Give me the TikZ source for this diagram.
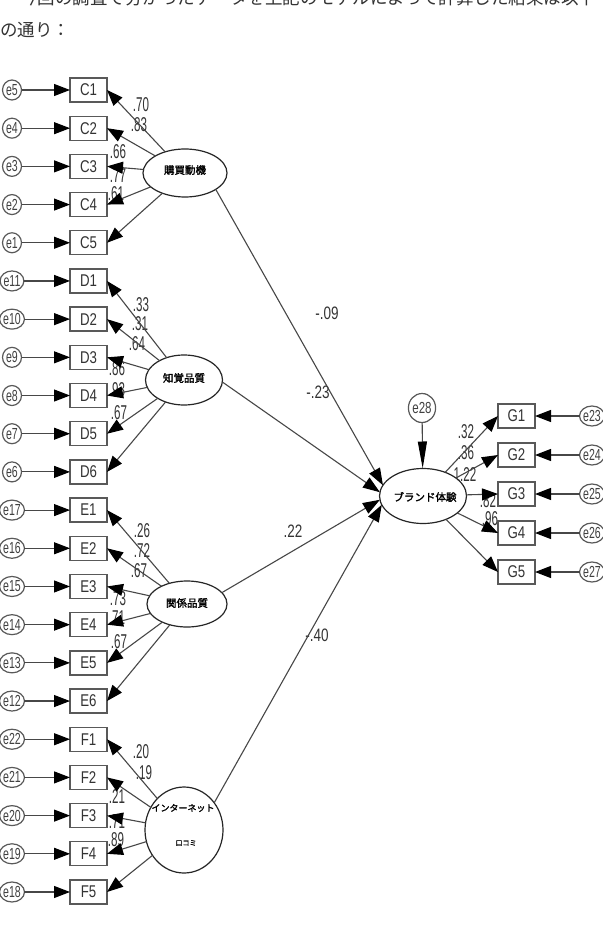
\documentclass[tikz,border=0pt]{standalone}
\usepackage{fontspec}
\usepackage{graphicx}
\setmainfont{Liberation Sans}
\newfontfamily\jp{Noto Sans CJK JP}
\newfontfamily\jpb[FakeBold=1.8]{Noto Sans CJK JP}
\usetikzlibrary{arrows.meta,shapes.geometric}
\newcommand\cnd[2]{\scalebox{#1}[1]{#2}}
\begin{document}
\begin{tikzpicture}[x=1pt,y=-1pt,
  every node/.style={inner sep=0pt, outer sep=0pt},
  obsbox/.style={draw=black!65, line width=1.3pt, fill=white, minimum width=37pt, minimum height=24pt, font=\fontsize{17}{17}\selectfont, text=black!80},
  errc/.style={draw=black!65, line width=1.2pt, ellipse, fill=white, minimum width=19pt, minimum height=20pt, font=\fontsize{16}{16}\selectfont, text=black!75},
  lat/.style={draw=black!85, line width=1.2pt, ellipse, fill=white},
  latlab/.style={font=\jpb\fontsize{10.5}{11}\selectfont},
  arr/.style={draw=black!72, line width=1.1pt, -{Triangle[length=16pt,width=12pt,color=black]}},
  arrbig/.style={draw=black!72, line width=1.1pt, -{Triangle[length=17pt,width=12pt,color=black]}},
  ld/.style={font=\fontsize{20}{20}\selectfont, text=black!80},
  sl/.style={font=\fontsize{18}{18}\selectfont, text=black!80},
  toptext/.style={anchor=west, font=\jp\fontsize{17.5}{17.5}\selectfont, text=black!80}
]
\useasboundingbox[fill=white] (0,0) rectangle (602,941);

% heading text
\node[toptext] (t1) at (20,-2) {今回の調査で分かったデータを上記のモデルによって計算した結果は以下};
\node[toptext] (t2) at (0,29.5) {の通り：};

% loading labels (drawn first, arrows overlap them)
\node[ld] (lc1) at (141,105) {\cnd{0.58}{.70}};
\node[ld] (lc2) at (139,125) {\cnd{0.58}{.83}};
\node[ld] (lc3) at (118,152) {\cnd{0.58}{.66}};
\node[ld] (lc4) at (118,176) {\cnd{0.58}{.77}};
\node[ld] (lc5) at (116,194) {\cnd{0.58}{.61}};
\node[ld] (ld1) at (141,305) {\cnd{0.58}{.33}};
\node[ld] (ld2) at (140,324) {\cnd{0.58}{.31}};
\node[ld] (ld3) at (137,344) {\cnd{0.58}{.64}};
\node[ld] (ld4) at (117,369) {\cnd{0.58}{.86}};
\node[ld] (ld5) at (117,390) {\cnd{0.58}{.93}};
\node[ld] (ld6) at (119,413) {\cnd{0.58}{.67}};
\node[ld] (le1) at (142,531) {\cnd{0.58}{.26}};
\node[ld] (le2) at (142,551) {\cnd{0.58}{.72}};
\node[ld] (le3) at (139,571) {\cnd{0.58}{.67}};
\node[ld] (le4) at (118,599) {\cnd{0.58}{.73}};
\node[ld] (le5) at (117,618) {\cnd{0.58}{.71}};
\node[ld] (le6) at (119,642) {\cnd{0.58}{.67}};
\node[ld] (lf1) at (141,752) {\cnd{0.58}{.20}};
\node[ld] (lf2) at (144,773) {\cnd{0.58}{.19}};
\node[ld] (lf3) at (117,797) {\cnd{0.58}{.21}};
\node[ld] (lf4) at (117,822) {\cnd{0.58}{.71}};
\node[ld] (lf5) at (116,840) {\cnd{0.58}{.89}};
\node[ld] (lg1) at (466,432) {\cnd{0.58}{.32}};
\node[ld] (lg2) at (466,453) {\cnd{0.58}{.36}};
\node[ld] (lg3) at (465,475) {\cnd{0.58}{1.22}};
\node[ld] (lg4) at (488,501) {\cnd{0.58}{.82}};
\node[ld] (lg5) at (490,519) {\cnd{0.58}{.96}};

% structural labels
\node[sl] (s1) at (327,313) {\cnd{0.75}{-.09}};
\node[sl] (s2) at (318,392) {\cnd{0.75}{-.23}};
\node[sl] (s3) at (293,531) {\cnd{0.75}{.22}};
\node[sl] (s4) at (317,635) {\cnd{0.75}{-.40}};

% observed variables with errors (left)
\foreach \lab/\err [count=\i from 0] in {C1/e5,C2/e4,C3/e3,C4/e2,C5/e1,D1/e11,D2/e10,D3/e9,D4/e8,D5/e7,D6/e6,E1/e17,E2/e16,E3/e15,E4/e14,E5/e13,E6/e12,F1/e22,F2/e21,F3/e20,F4/e19,F5/e18}{
  \pgfmathsetmacro\yy{90+38.19*\i}
  \node[obsbox] (\lab) at (88.5,\yy) {\cnd{0.78}{\lab}};
  \node[errc] (e\lab) at (12,\yy) {\cnd{0.66}{\err}};
  \draw[arr] (e\lab) -- (\lab);
}

% latent variables
\node[lat, minimum width=84pt, minimum height=48pt] (L1) at (185,173) {};
\node[latlab] (L1t) at (185,170) {購買動機};
\node[lat, minimum width=77pt, minimum height=50pt] (L2) at (184,380) {};
\node[latlab] (L2t) at (184,378) {知覚品質};
\node[lat, minimum width=80pt, minimum height=46pt] (L3) at (187,604) {};
\node[latlab] (L3t) at (187,603) {関係品質};
\node[lat, minimum width=78pt, minimum height=86pt] (L4) at (184,830) {};
\node[font=\jpb\fontsize{9}{9}\selectfont] (L4t) at (183,808) {インターネット};
\node[font=\jpb\fontsize{7}{7}\selectfont] (L4u) at (186,843) {口コミ};
\node[lat, minimum width=87pt, minimum height=55pt] (B) at (423,496) {};
\node[latlab] (Bt) at (425,497) {ブランド体験};
\node[errc, minimum width=27pt, minimum height=29pt, font=\fontsize{16}{16}\selectfont] (e28) at (422,408) {\cnd{0.72}{e28}};

% loadings
\foreach \o in {C1,C2,C3,C4,C5} \draw[arr] (L1) -- (\o.east);
\foreach \o in {D1,D2,D3,D4,D5,D6} \draw[arr] (L2) -- (\o.east);
\foreach \o in {E1,E2,E3,E4,E5,E6} \draw[arr] (L3) -- (\o.east);
\foreach \o in {F1,F2,F3,F4,F5} \draw[arr] (L4) -- (\o.east);

% structural paths
\draw[arrbig] (L1.-28) -- (B.165);
\draw[arrbig] (L2.-3) -- (B.175);
\draw[arrbig] (L3.18) -- (B.185);
\draw[arrbig] (L4.42) -- (B.192);
\draw[draw=black!72, line width=1.1pt, -{Triangle[length=27pt,width=9pt,color=black]}] (e28) -- (B);

% right side indicators
\foreach \g/\err [count=\i from 0] in {G1/e23,G2/e24,G3/e25,G4/e26,G5/e27}{
  \pgfmathsetmacro\yy{416+39*\i}
  \node[obsbox] (\g) at (516.5,\yy) {\cnd{0.78}{\g}};
  \node[errc] (e\g) at (592,\yy) {\cnd{0.66}{\err}};
  \draw[arr] (e\g) -- (\g);
  \draw[arr] (B) -- (\g.west);
}
\end{tikzpicture}
\end{document}
